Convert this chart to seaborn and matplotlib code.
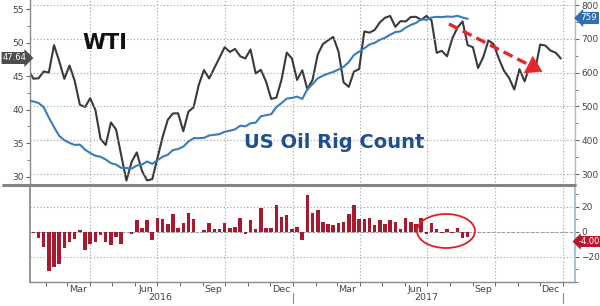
import numpy as np
import pandas as pd
import matplotlib
matplotlib.use("Agg")
import matplotlib.pyplot as plt
import matplotlib.dates as mdates
from matplotlib.patches import Ellipse, FancyArrowPatch
from matplotlib.lines import Line2D
import seaborn as sns

# ---------------- data ----------------
# WTI weekly closes, plotted with an 18-week lead (weekly Fridays starting 2016-01-08)
wti_start = "2016-01-08"
wti = [46.05, 44.63, 44.68, 45.70, 45.54, 49.63, 47.26, 44.60, 46.59, 44.29,
       40.74, 40.39, 41.71, 39.97, 35.62, 34.73, 38.10, 37.04,
       33.16, 29.42, 32.19, 33.62, 30.89, 29.44, 29.64, 32.78, 35.92, 38.50,
       39.44, 39.46, 36.79, 39.72, 40.36, 43.73, 45.92, 44.66, 46.21, 47.75,
       49.33, 48.62, 49.07, 47.98, 47.64, 48.99, 45.41, 45.95, 44.19, 41.60,
       41.80, 44.49, 48.52, 47.64, 44.44, 45.88, 43.03, 44.48, 48.24, 49.81,
       50.35, 50.85, 48.70, 44.07, 43.41, 45.69, 46.06, 51.68, 51.50, 51.90,
       53.02, 53.72,
       53.99, 52.37, 53.22, 53.17, 53.83, 53.86, 53.40, 53.99, 53.33, 48.49,
       48.78, 47.97, 50.60, 52.24, 53.18, 49.62, 49.33, 46.22, 47.84, 50.33,
       49.80, 47.66, 45.83, 44.74, 43.01, 46.04, 44.23, 46.54, 45.77, 49.71,
       49.58, 48.82, 48.51, 47.64]

# US oil rig count, weekly from 2016-01-08
rig_start = "2016-01-08"
rigs = [516, 515, 510, 498, 467, 439, 413, 400, 392, 386, 387, 372, 362, 354,
        351, 343, 332, 328, 318, 318, 316, 325, 328, 337, 330, 341, 351, 357,
        371, 374, 381, 396, 406, 406, 407, 414, 416, 418, 425, 428, 432, 443,
        441, 450, 452, 471, 474, 477, 498, 510, 523, 525,
        529, 522, 551, 566, 583, 591, 597, 602, 609, 617, 631, 652, 662, 672,
        683, 688, 697, 703, 712, 720, 722, 733, 741, 747, 758, 756, 763, 765,
        764, 766, 765, 768, 763, 759]

# weekly change in rig count, weekly from 2016-01-15
chg_start = "2016-01-15"
changes = [-1, -5, -12, -31, -28, -26, -13, -8, -6, 1, -15, -10, -8, -3, -8,
           -11, -4, -10, 0, -2, 9, 3, 9, -7, 11, 10, 6, 14, 3, 7, 15, 10, 0,
           1, 7, 2, 2, 7, 3, 4, 11, -2, 9, 2, 19, 3, 3, 21, 12, 13, 2,
           4, -7, 29, 15, 17, 8, 6, 5, 7, 8, 14, 21, 10, 10, 11, 5, 9, 6, 9,
           8, 2, 11, 8, 6, 11, -2, 7, 2, -1, 2, -1, 3, -5, -4]

wti_ticks = [30, 35, 40, 45, 50, 55]
rig_ticks = [300, 400, 500, 600, 700, 800]
chg_ticks = [-20, 0, 20]
month_labels = ["Mar", "Jun", "Sep", "Dec", "Mar", "Jun", "Sep", "Dec"]
month_label_dates = ["2016-03-15", "2016-06-15", "2016-09-15", "2016-12-15",
                     "2017-03-15", "2017-06-15", "2017-09-15", "2017-12-15"]
year_labels = ["2016", "2017"]

df_wti = pd.DataFrame({"date": pd.date_range(wti_start, periods=len(wti), freq="7D"), "wti": wti})
df_rig = pd.DataFrame({"date": pd.date_range(rig_start, periods=len(rigs), freq="7D"), "rigs": rigs})
df_chg = pd.DataFrame({"date": pd.date_range(chg_start, periods=len(changes), freq="7D"), "chg": changes})

# ---------------- style ----------------
sns.set_theme(style="white")
plt.rcParams['font.family'] = ['DejaVu Sans']

W, H = 600, 306
fig = plt.figure(figsize=(W / 100, H / 100), dpi=100)
fig.patch.set_facecolor("white")

def fx(px):
    return px / W

def fy(py):
    return 1 - py / H

ax = fig.add_axes([fx(30), fy(185), 545 / W, 185 / H])
ax2 = ax.twinx()
axb = fig.add_axes([fx(30), fy(282), 545 / W, 97 / H])

xmin = pd.Timestamp("2016-01-10 12:00")
xmax = pd.Timestamp("2018-01-17 05:00")

grid_kw = dict(color="#a0a0a0", linestyle=(0, (1, 2)), linewidth=0.8)
tick_col = "#666666"
lab_col = "#444444"

# ---------------- top panel ----------------
sns.lineplot(data=df_wti, x="date", y="wti", ax=ax, color="#3a3a3a", linewidth=1.5)
sns.lineplot(data=df_rig, x="date", y="rigs", ax=ax2, color="#3a7bbd", linewidth=1.5)

for a in (ax, ax2):
    a.set_xlim(xmin, xmax)
    a.set_xlabel("")
    a.set_ylabel("")
ax.set_ylim(28.76, 56.37)
ax2.set_ylim(267.5, 814.8)

ax.set_yticks(wti_ticks)
ax.yaxis.set_minor_locator(matplotlib.ticker.MultipleLocator(2.5))
ax.tick_params(axis="y", which="major", left=True, direction="out", length=3, width=0.8,
               color=tick_col, labelsize=6.5, labelcolor=lab_col, pad=1.5)
ax.tick_params(axis="y", which="minor", left=True, direction="out", length=2, width=0.6, color=tick_col)

ax2.set_yticks(rig_ticks)
ax2.yaxis.set_minor_locator(matplotlib.ticker.MultipleLocator(50))
ax2.tick_params(axis="y", which="major", right=True, direction="out", length=3, width=0.8,
                color=tick_col, labelsize=6.5, labelcolor=lab_col, pad=1.5)
ax2.tick_params(axis="y", which="minor", right=True, direction="out", length=2, width=0.6, color=tick_col)
ax2.yaxis.grid(True, **grid_kw)

ax.xaxis.set_major_locator(mdates.MonthLocator(bymonth=[1, 4, 7, 10]))
ax.xaxis.grid(True, **grid_kw)
ax.tick_params(axis="x", which="both", length=0, labelbottom=False)
ax2.tick_params(axis="x", which="both", length=0, labelbottom=False)

for a in (ax, ax2):
    for s in a.spines.values():
        s.set_visible(False)
ax.spines["left"].set_visible(True)
ax.spines["left"].set_color("#8a8a8a")
ax.spines["left"].set_linewidth(1.0)
ax2.spines["right"].set_visible(True)
ax2.spines["right"].set_color("#9dbad8")
ax2.spines["right"].set_linewidth(1.0)

# ---------------- bottom panel ----------------
axb.bar(df_chg["date"], df_chg["chg"], width=4.8, color="#a8182f", linewidth=0, zorder=3)
axb.set_xlim(xmin, xmax)
axb.set_ylim(-40.2, 37.4)
axb.yaxis.tick_right()
axb.set_yticks(chg_ticks)
axb.yaxis.set_minor_locator(matplotlib.ticker.MultipleLocator(10))
axb.tick_params(axis="y", which="major", right=True, left=False, direction="out", length=3,
                width=0.8, color=tick_col, labelsize=6.5, labelcolor=lab_col, pad=1.5)
axb.tick_params(axis="y", which="minor", right=True, left=False, direction="out", length=2,
                width=0.6, color=tick_col)
axb.yaxis.grid(True, **grid_kw)
axb.axhline(0, color="#9a9a9a", linestyle=(0, (3, 2)), linewidth=0.7, zorder=1)

axb.xaxis.set_major_locator(mdates.MonthLocator(bymonth=[1, 4, 7, 10]))
axb.xaxis.set_minor_locator(mdates.MonthLocator())
axb.xaxis.set_major_formatter(matplotlib.ticker.NullFormatter())
axb.xaxis.grid(True, which="major", **grid_kw)
axb.tick_params(axis="x", which="both", bottom=True, direction="out", length=3, width=0.7,
                color=tick_col, labelbottom=False)
axb.set_axisbelow(True)

for s in axb.spines.values():
    s.set_visible(False)
axb.spines["left"].set_visible(True)
axb.spines["left"].set_color("#8a8a8a")
axb.spines["bottom"].set_visible(True)
axb.spines["bottom"].set_color("#8a8a8a")
axb.spines["bottom"].set_linewidth(1.0)
axb.spines["right"].set_visible(True)
axb.spines["right"].set_color("#9dbad8")

xt = axb.get_xaxis_transform()
for lab, d in zip(month_labels, month_label_dates):
    axb.text(pd.Timestamp(d), -(289 - 282) / 97, lab, transform=xt, ha="center", va="center",
             fontsize=6.8, color=lab_col)
for lab, xpx in zip(year_labels, [160, 426]):
    fig.text(fx(xpx), fy(298), lab, ha="center", va="center", fontsize=6.8, color=lab_col)
for d in ["2017-01-01", "2018-01-01"]:
    axb.plot([pd.Timestamp(d)] * 2, [-(293 - 282) / 97, -(303 - 282) / 97], transform=xt,
             color="#8a8a8a", linewidth=0.8, clip_on=False)

# separator between panels
fig.add_artist(Line2D([fx(3), fx(575)], [fy(185), fy(185)], transform=fig.transFigure,
                      color="#858585", linewidth=2.2))

# ---------------- annotations ----------------
fig.text(fx(104.5), fy(43), "WTI", ha="center", va="center", fontsize=15,
         fontweight="bold", color="#111111")
fig.text(fx(334), fy(143), "US Oil Rig Count", ha="center", va="center", fontsize=14,
         fontweight="bold", color="#1f4f8f")

# red dashed arrow
x0, y0, x1, y1 = 449, 24, 545, 73
vx, vy = x1 - x0, y1 - y0
L = (vx ** 2 + vy ** 2) ** 0.5
hx, hy = x1 - vx / L * 10, y1 - vy / L * 10
fig.add_artist(Line2D([fx(x0), fx(hx)], [fy(y0), fy(hy)], transform=fig.transFigure,
                      color="#e5262b", linewidth=2.4, linestyle=(0, (3, 1.6))))
fig.add_artist(FancyArrowPatch((fx(hx - vx / L * 2), fy(hy - vy / L * 2)), (fx(x1), fy(y1)),
                               transform=fig.transFigure, arrowstyle="-|>,head_length=0.9,head_width=0.55",
                               mutation_scale=12, color="#e5262b", linewidth=0.5))

# red ellipse in bottom panel
fig.add_artist(Ellipse((fx(446), fy(231)), 58 / W, 34 / H, transform=fig.transFigure,
                       fill=False, edgecolor="#e01f25", linewidth=1.3))

# last-value boxes
fig.text(fx(15), fy(58), "47.64", ha="center", va="center", fontsize=6, color="white",
         bbox=dict(boxstyle="rarrow,pad=0.18", fc="#4d4d4d", ec="none"))
fig.text(fx(589), fy(18), "759", ha="center", va="center", fontsize=6.3, color="white",
         bbox=dict(boxstyle="larrow,pad=0.18", fc="#2f6fad", ec="none"))
fig.text(fx(589), fy(241.5), "-4.00", ha="center", va="center", fontsize=6, color="white",
         zorder=10, bbox=dict(boxstyle="larrow,pad=0.12", fc="#b5172f", ec="none"))

fig.savefig("out.png", dpi=100)
